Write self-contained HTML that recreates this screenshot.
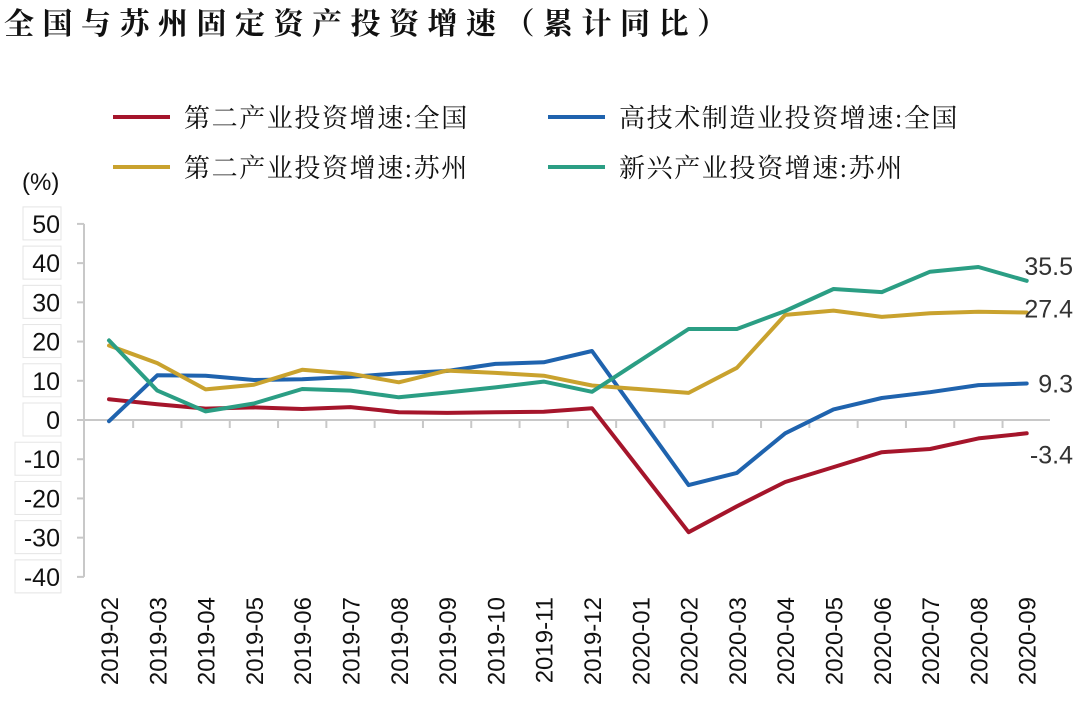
<!DOCTYPE html>
<html><head><meta charset="utf-8"><style>
body{margin:0;background:#fff;width:1080px;height:706px;overflow:hidden}
svg{display:block}
.t{font-family:"Liberation Sans","Noto Sans CJK SC",sans-serif}
.s{font-family:"Liberation Serif","Noto Serif CJK SC",serif}
</style></head><body>
<svg id="c" width="1080" height="706">
<text class="s" x="4" y="34" font-size="30" letter-spacing="8.5" font-weight="bold" fill="#111">全国与苏州固定资产投资增速（累计同比）</text>
<text class="t" x="22" y="190" font-size="24" fill="#111">(%)</text>
<g>
<g><line x1="113" y1="117" x2="170" y2="117" stroke="#a5152b" stroke-width="4"/><text class="s" x="184" y="127" font-size="26" letter-spacing="1.6" fill="#111">第二产业投资增速:全国</text></g>
<g><line x1="548" y1="117" x2="605" y2="117" stroke="#1f63ae" stroke-width="4"/><text class="s" x="619" y="127" font-size="26" letter-spacing="1.6" fill="#111">高技术制造业投资增速:全国</text></g>
<g><line x1="113" y1="167" x2="170" y2="167" stroke="#c9a22e" stroke-width="4"/><text class="s" x="184" y="177" font-size="26" letter-spacing="1.6" fill="#111">第二产业投资增速:苏州</text></g>
<g><line x1="548" y1="167" x2="605" y2="167" stroke="#2b9e84" stroke-width="4"/><text class="s" x="619" y="177" font-size="26" letter-spacing="1.6" fill="#111">新兴产业投资增速:苏州</text></g>
</g>
<g id="axes"></g><g id="series"></g>
</svg>
<script>
const categories=["2019-02","2019-03","2019-04","2019-05","2019-06","2019-07","2019-08","2019-09","2019-10","2019-11","2019-12","2020-01","2020-02","2020-03","2020-04","2020-05","2020-06","2020-07","2020-08","2020-09"];
const yTicks=[50,40,30,20,10,0,-10,-20,-30,-40];
const redVals=[5.3,4.0,2.9,3.2,2.8,3.3,2.0,1.8,2.0,2.1,3.0,null,-28.6,-22.0,-15.8,-12.0,-8.2,-7.4,-4.7,-3.4];
const blueVals=[-0.3,11.4,11.3,10.2,10.4,11.0,11.9,12.5,14.3,14.7,17.6,null,-16.6,-13.5,-3.4,2.7,5.6,7.1,8.9,9.3];
const goldVals=[19.0,14.5,7.8,9.0,12.8,11.8,9.6,12.6,12.0,11.3,8.8,null,6.9,13.3,26.8,27.9,26.3,27.2,27.6,27.4];
const greenVals=[20.3,7.5,2.2,4.2,7.9,7.5,5.8,7.0,8.3,9.8,7.2,null,23.2,23.2,27.8,33.4,32.6,37.8,39.0,35.5];
const endLabels=["-3.4","9.3","27.4","35.5"];
const NS="http://www.w3.org/2000/svg";
const X=i=>109+i*48.3, Y=v=>420-v*3.922;
function mk(p,t,a){const e=document.createElementNS(NS,t);for(const k in a)e.setAttribute(k,a[k]);p.appendChild(e);return e;}
const ax=document.getElementById('axes'), se=document.getElementById('series');
const yl=mk(ax,'line',{x1:84,y1:Y(50),x2:84,y2:Y(-40),stroke:'#c8c8c8','stroke-width':2});


yTicks.forEach(v=>{
 mk(ax,'line',{x1:77,y1:Y(v),x2:84,y2:Y(v),stroke:'#c8c8c8','stroke-width':2});
 const w=v<0?46:38;
 mk(ax,'rect',{x:61-w,y:Y(v)-17,width:w,height:33,fill:'#fff',stroke:'#e4e4e4','stroke-width':1});
 const t=mk(ax,'text',{x:60,y:Y(v)+9,'font-size':25,'text-anchor':'end',fill:'#111',class:'t'});
 t.textContent=v;
 
 
});
const xl=mk(ax,'line',{x1:84,y1:Y(0),x2:1050,y2:Y(0),stroke:'#c8c8c8','stroke-width':2});


categories.forEach((c,i)=>{
 if(i<categories.length-1) mk(ax,'line',{x1:X(i)+24.15,y1:Y(0),x2:X(i)+24.15,y2:Y(0)+8,stroke:'#c8c8c8','stroke-width':2});
 const t=mk(ax,'text',{x:0,y:0,'font-size':24,'text-anchor':'end',fill:'#111',class:'t',transform:`translate(${X(i)+9},597) rotate(-90)`});
 t.textContent=c;
 
 
});
const offs=[21,0,-4,-15];
const series=[[redVals,'#a5152b','series-red'],[blueVals,'#1f63ae','series-blue'],[goldVals,'#c9a22e','series-gold'],[greenVals,'#2b9e84','series-green']];
series.forEach(([vals,col,name],k)=>{
 const pts=[];vals.forEach((v,i)=>{if(v!==null)pts.push(X(i).toFixed(1)+','+Y(v).toFixed(1));});
 const p=mk(se,'polyline',{points:pts.join(' '),fill:'none',stroke:col,'stroke-width':4,'stroke-linejoin':'round','stroke-linecap':'round'});
 
 
 const last=vals[vals.length-1];
 const t=mk(se,'text',{x:1073,y:Y(last)+offs[k]+9,'font-size':25,'text-anchor':'end',fill:'#333',class:'t'});
 t.textContent=endLabels[k];
 
 
});
</script>
</body></html>
